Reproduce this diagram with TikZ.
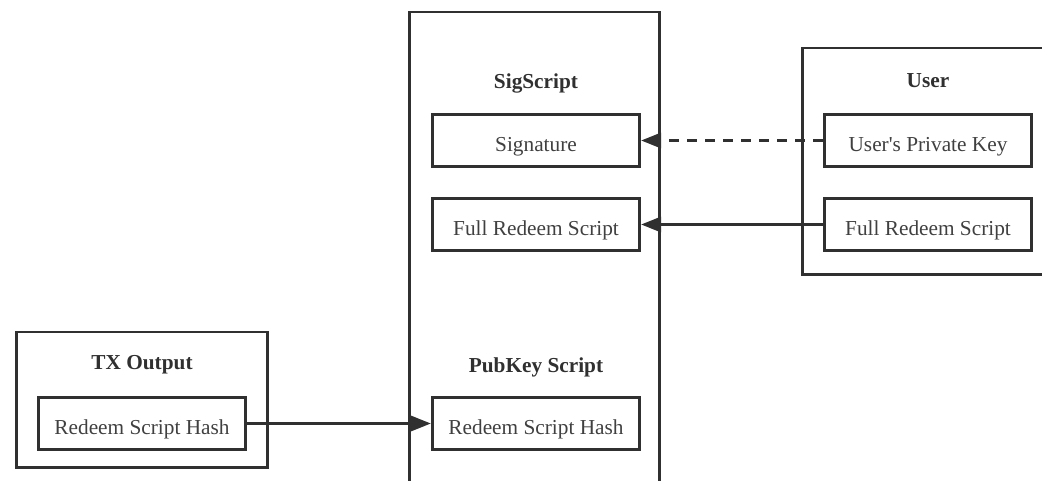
\documentclass[tikz,border=0pt]{standalone}
\usepackage{fontspec}
\setmainfont{Liberation Serif}
\usetikzlibrary{arrows.meta}
\definecolor{edge}{HTML}{303030}
\definecolor{ink}{HTML}{404040}
% straight apostrophe, taken as a glyph so no quote mapping turns it curly
\newcommand{\straightquote}{{\XeTeXglyph\XeTeXglyphindex "quotesingle"\relax}}
\begin{document}
\begin{tikzpicture}[x=1pt,y=-1pt,
  frame/.style={draw=edge, line width=2.7pt},
  item/.style={draw=edge, line width=2.6pt, minimum width=207.5pt, minimum height=51.5pt,
    inner sep=0pt, text height=22pt, text depth=0pt, text=ink,
    font=\fontsize{21.3}{25}\selectfont},
  title/.style={anchor=base, inner sep=0pt, text=edge,
    font=\fontsize{21.3}{25}\selectfont\bfseries},
  link/.style={draw=edge, line width=3pt, -{Triangle[length=20pt,width=15pt]}},
]
\useasboundingbox (0,0) rectangle (1042,480);
\clip (0,0) rectangle (1042,480);

% containers
\draw[frame] (409.5,12) rectangle (659.5,500);
\draw[frame] (802.5,48) rectangle (1053,274.5);
\draw[frame] (16.5,332) rectangle (267.5,467.5);

% container titles
\node[title] (sigtitle) at (536,88) {SigScript};
\node[title] (pubtitle) at (536,372) {PubKey Script};
\node[title] (usertitle) at (928,87) {User};
\node[title] (txtitle) at (142,369) {TX Output};

% inner items
\node[item] (sig) at (536,140.5) {Signature};
\node[item] (fullin) at (536,224.5) {Full Redeem Script};
\node[item] (hashin) at (536,423.5) {Redeem Script Hash};
\node[item] (key) at (928,140.5) {User\straightquote s Private Key};
\node[item] (fullusr) at (928,224.5) {Full Redeem Script};
\node[item] (hashtx) at (142,423.5) {Redeem Script Hash};

% connectors
\draw[link, dash pattern=on 10pt off 8pt] (key.west) -- (sig.east);
\draw[link] (fullusr.west) -- (fullin.east);
\draw[link] (hashtx.east) -- (hashin.west);
\end{tikzpicture}
\end{document}
